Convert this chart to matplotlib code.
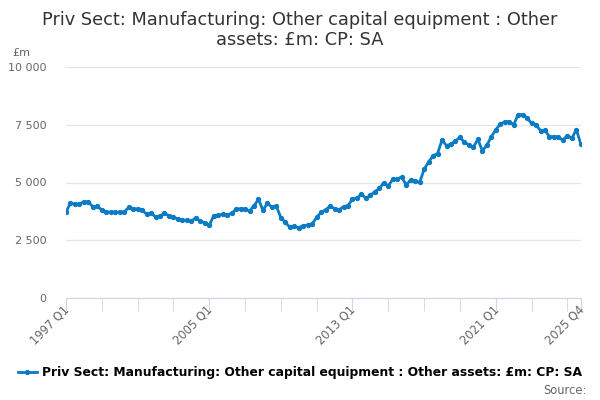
import matplotlib
matplotlib.use('Agg')
import matplotlib.pyplot as plt
from matplotlib.lines import Line2D
from matplotlib.ticker import FuncFormatter
from matplotlib.transforms import ScaledTranslation

# quarterly values 1997 Q1 .. 2025 Q4
start_year = 1997
values = [
    3710, 4125, 4055, 4070, 4170, 4155, 3955, 3970,
    3810, 3720, 3710, 3710, 3720, 3710, 3925, 3870,
    3855, 3795, 3635, 3665, 3520, 3550, 3665, 3565,
    3520, 3405, 3375, 3360, 3320, 3475, 3320, 3260,
    3140, 3565, 3580, 3620, 3600, 3665, 3840, 3870,
    3840, 3765, 3995, 4270, 3795, 4110, 3925, 3970,
    3475, 3275, 3060, 3100, 3045, 3130, 3160, 3215,
    3490, 3710, 3815, 3980, 3870, 3815, 3955, 4000,
    4285, 4315, 4500, 4315, 4445, 4600, 4745, 4995,
    4850, 5150, 5150, 5240, 4890, 5120, 5065, 5005,
    5570, 5890, 6160, 6250, 6840, 6595, 6665, 6800,
    6960, 6740, 6630, 6520, 6876, 6375, 6610, 6980,
    7280, 7530, 7620, 7640, 7496, 7940, 7940, 7800,
    7560, 7496, 7250, 7260, 6980, 6990, 6963, 6830,
    7030, 6910, 7290, 6665,
]
quarters = [f'{start_year + i // 4} Q{i % 4 + 1}' for i in range(len(values))]
label_quarters = ['1997 Q1', '2005 Q1', '2013 Q1', '2021 Q1', '2025 Q4']
y_ticks = [0, 2500, 5000, 7500, 10000]

series_name = 'Priv Sect: Manufacturing: Other capital equipment : Other assets: £m: CP: SA'

blue = '#0a7bc4'
grey = '#666666'
axis_col = '#ccd6eb'

fig = plt.figure(figsize=(6, 4), dpi=100)
ax = fig.add_axes([0.11, 0.255, 0.858, 0.5775])

x = list(range(len(values)))
ax.plot(x, values, color=blue, lw=2, marker='o', ms=2.8, zorder=3)

ax.set_xlim(0, len(values) - 1)
ax.set_ylim(0, 10000)
ax.set_yticks(y_ticks)
ax.yaxis.set_major_formatter(FuncFormatter(lambda v, p: f'{int(v):,}'.replace(',', ' ')))
ax.grid(axis='y', color='#e6e6e6', lw=1)
ax.set_axisbelow(True)

major = [quarters.index(q) for q in label_quarters]
minor = [i for i in range(0, len(values), 8) if i not in major]
ax.set_xticks(major)
ax.set_xticks(minor, minor=True)
ax.set_xticklabels([])

# rotated category labels, anchored just under each tick
lab_tr = ax.get_xaxis_transform() + ScaledTranslation(1 / 100, -10 / 100, fig.dpi_scale_trans)
for q in label_quarters:
    ax.text(quarters.index(q), 0, q, transform=lab_tr, rotation=45, ha='right', va='center',
            rotation_mode='anchor', fontsize=8.3, color=grey)

for s in ['top', 'right', 'left']:
    ax.spines[s].set_visible(False)
ax.spines['bottom'].set_color(axis_col)
ax.tick_params(axis='x', which='both', length=9, color=axis_col)
ax.tick_params(axis='y', length=0, labelsize=8, labelcolor=grey, pad=14)

fig.text(0.5, 0.925, 'Priv Sect: Manufacturing: Other capital equipment : Other\nassets: £m: CP: SA',
         ha='center', va='center', fontsize=12.8, color='#333333', linespacing=1.2)
fig.text(0.02, 0.868, '£m', fontsize=8, color=grey, va='center')

handle = Line2D([], [], color=blue, lw=2, marker='o', ms=2.8)
fig.legend([handle], [series_name], loc='center', bbox_to_anchor=(0.5, 0.068),
           frameon=False, handlelength=1.6, handletextpad=0.4,
           prop={'weight': 'bold', 'size': 8.9})
fig.text(0.978, 0.025, 'Source:', ha='right', va='center', fontsize=8.3, color=grey)

fig.savefig('out.png', dpi=100)
